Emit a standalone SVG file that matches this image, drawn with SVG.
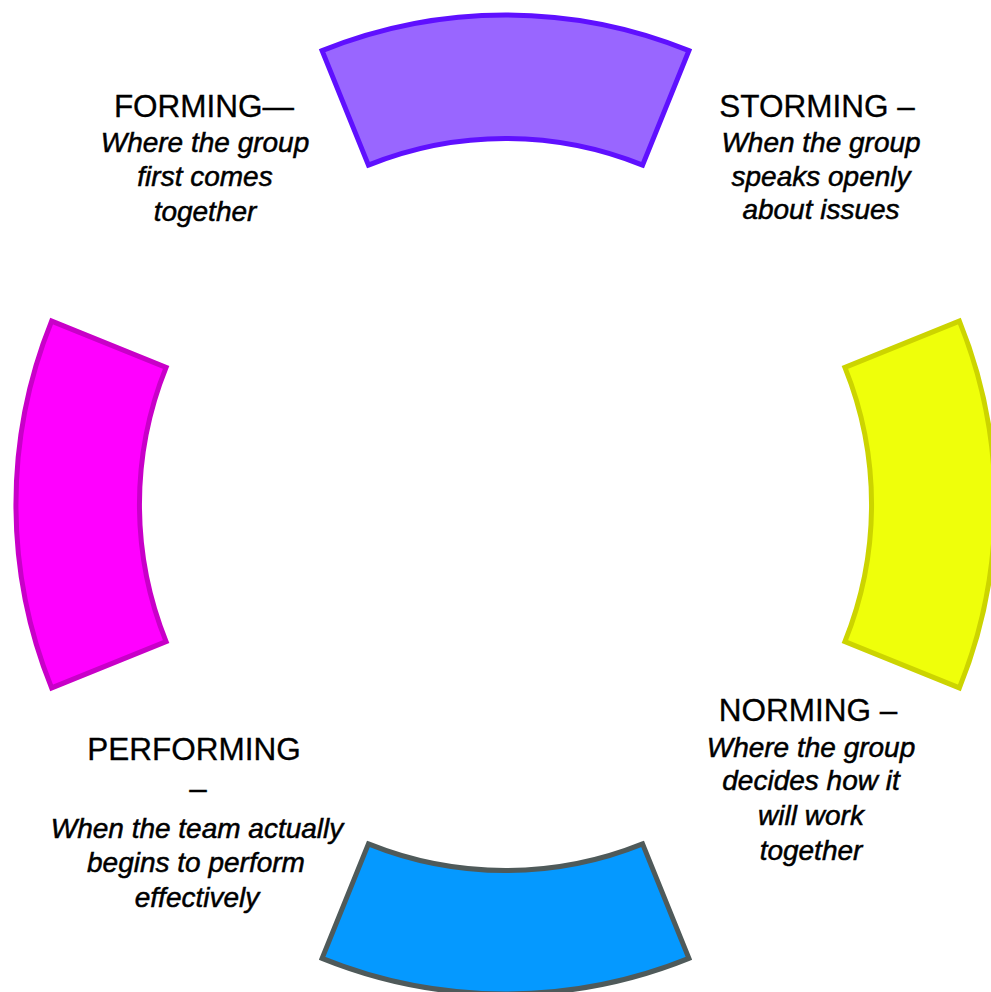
<svg xmlns="http://www.w3.org/2000/svg" width="991" height="992" viewBox="0 0 991 992">
<style>
.seg{stroke-width:5;stroke-linejoin:miter}
.h{font-family:"Liberation Sans",Arial,sans-serif;font-size:31.5px;fill:#000;stroke:#000;stroke-width:0.3px;text-anchor:middle}
.d{font-family:"Liberation Sans",Arial,sans-serif;font-size:28px;font-style:italic;fill:#000;stroke:#000;stroke-width:0.5px;text-anchor:middle}
</style>
<rect width="991" height="992" fill="#fff"/>
<g id="forming-seg">
<path class="seg" fill="#9966FF" stroke="#5F10FF" d="M322.1,50.6 A489.5,489.5 0 0 1 688.9,50.6 L642.6,165.1 A366,366 0 0 0 368.4,165.1 Z"/>
</g>
<g id="storming-seg">
<path class="seg" fill="#EFFF0A" stroke="#CCD400" d="M959.4,321.1 A489.5,489.5 0 0 1 959.4,687.9 L844.9,641.6 A366,366 0 0 0 844.9,367.4 Z"/>
</g>
<g id="norming-seg">
<path class="seg" fill="#0599FF" stroke="#4F5A5A" d="M322.1,958.4 A489.5,489.5 0 0 0 688.9,958.4 L642.6,843.9 A366,366 0 0 1 368.4,843.9 Z"/>
</g>
<g id="performing-seg">
<path class="seg" fill="#FF00FF" stroke="#C800C8" d="M51.6,321.1 A489.5,489.5 0 0 0 51.6,687.9 L166.1,641.6 A366,366 0 0 1 166.1,367.4 Z"/>
</g>
<g id="forming-label">
<text class="h" x="204" y="117">FORMING—</text>
<text class="d" x="205" y="152">Where the group</text>
<text class="d" x="205" y="186">first comes</text>
<text class="d" x="205" y="221">together</text>
</g>
<g id="storming-label">
<text class="h" x="817" y="117">STORMING –</text>
<text class="d" x="821" y="152">When the group</text>
<text class="d" x="821" y="186">speaks openly</text>
<text class="d" x="821" y="219">about issues</text>
</g>
<g id="norming-label">
<text class="h" x="808" y="721">NORMING –</text>
<text class="d" x="811" y="757">Where the group</text>
<text class="d" x="811" y="790">decides how it</text>
<text class="d" x="811" y="825">will work</text>
<text class="d" x="811" y="860">together</text>
</g>
<g id="performing-label">
<text class="h" x="194" y="760">PERFORMING</text>
<text class="h" x="198" y="799">–</text>
<text class="d" x="197" y="838">When the team actually</text>
<text class="d" x="196" y="872">begins to perform</text>
<text class="d" x="197" y="907">effectively</text>
</g>
<g id="connectors"></g>
</svg>
